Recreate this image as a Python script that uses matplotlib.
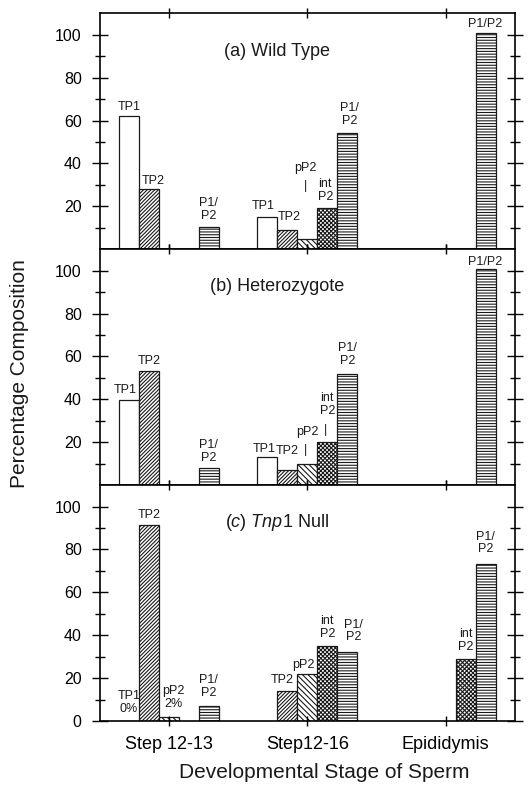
import numpy as np
import matplotlib
matplotlib.use("agg")
import matplotlib.pyplot as plt

plt.rcParams['font.family'] = ['Liberation Sans', 'DejaVu Sans']
plt.rcParams['mathtext.fontset'] = 'custom'
plt.rcParams['mathtext.it'] = 'Liberation Sans:italic'
plt.rcParams['mathtext.rm'] = 'Liberation Sans'
plt.rcParams['hatch.linewidth'] = 0.8
plt.rcParams['text.color'] = '#1a1a1a'

nan = np.nan
categories = ["Step 12-13", "Step12-16", "Epididymis"]
proteins = ["TP1", "TP2", "pP2", "intP2", "P1/P2"]

# (a) wild type
wt_tp1 = [62, 15, nan]
wt_tp2 = [28, 9, nan]
wt_pp2 = [nan, 5, nan]
wt_int = [nan, 19, nan]
wt_p1p2 = [10.5, 54, 101]

# (b) heterozygote
het_tp1 = [39.5, 13, nan]
het_tp2 = [53, 7, nan]
het_pp2 = [nan, 10, nan]
het_int = [nan, 20, nan]
het_p1p2 = [8, 52, 101]

# (c) Tnp1 null
null_tp1 = [0, nan, nan]
null_tp2 = [91.5, 14, nan]
null_pp2 = [2, 22, nan]
null_int = [nan, 35, 29]
null_p1p2 = [7, 32, 73]

titles = ["(a) Wild Type", "(b) Heterozygote", r"$\mathit{(c)\ Tnp1}$ Null"]
panels = [
    [wt_tp1, wt_tp2, wt_pp2, wt_int, wt_p1p2],
    [het_tp1, het_tp2, het_pp2, het_int, het_p1p2],
    [null_tp1, null_tp2, null_pp2, null_int, null_p1p2],
]
hatches = ["", "/" * 9, "\\" * 6, "x" * 8, "-" * 6]

# bar labels: (series, category, text, dx in bar widths, dy above bar top)
labels = [
    [(0, 0, "TP1", 0, 4.3), (1, 0, "TP2", 0.2, 3.7), (4, 0, "P1/\nP2", 0, 8.2),
     (0, 1, "TP1", -0.2, 5), (1, 1, "TP2", 0.1, 6), (2, 1, "pP2", -0.1, 33),
     (3, 1, "int\nP2", -0.1, 8.3), (4, 1, "P1/\nP2", 0.1, 8.8),
     (4, 2, "P1/P2", 0, 4)],
    [(0, 0, "TP1", -0.2, 5), (1, 0, "TP2", 0, 5), (4, 0, "P1/\nP2", 0, 7.8),
     (0, 1, "TP1", -0.15, 4), (1, 1, "TP2", 0, 9), (2, 1, "pP2", 0, 15),
     (3, 1, "int\nP2", 0, 17.6), (4, 1, "P1/\nP2", 0, 9),
     (4, 2, "P1/P2", 0, 3)],
    [(0, 0, "TP1\n0%", 0, 8.6), (1, 0, "TP2", 0, 4.8), (2, 0, "pP2\n2%", 0.2, 9),
     (4, 0, "P1/\nP2", 0, 9),
     (1, 1, "TP2", -0.25, 5), (2, 1, "pP2", -0.2, 4), (3, 1, "int\nP2", 0, 8.7),
     (4, 1, "P1/\nP2", 0.3, 10),
     (3, 2, "int\nP2", 0, 8.6), (4, 2, "P1/\nP2", 0, 10)],
]
# leader ticks: (series, category, dx, dy)
leaders = [
    [(2, 1, -0.1, 24.4)],
    [(2, 1, -0.1, 6.6), (3, 1, -0.1, 5.9)],
    [],
]

w = 0.1444
x = np.arange(len(categories))

fig, axes = plt.subplots(3, 1, sharex=True, figsize=(5.28, 7.85), dpi=100)
fig.subplots_adjust(left=0.189, right=0.975, top=0.983, bottom=0.0815, hspace=0)

for k, ax in enumerate(axes):
    series = panels[k]
    for i, vals in enumerate(series):
        vals = np.array(vals, dtype=float)
        keep = ~np.isnan(vals)
        ax.bar(x[keep] + (i - 2) * w, vals[keep], w, facecolor="white",
               edgecolor="#1a1a1a", hatch=hatches[i], linewidth=0.9)
    for s, c, txt, dx, dy in labels[k]:
        xpos = x[c] + (s - 2 + dx) * w
        ax.text(xpos, series[s][c] + dy, txt, ha="center", va="center",
                fontsize=9, linespacing=1.1)
    for s, c, dx, dy in leaders[k]:
        xpos = x[c] + (s - 2 + dx) * w
        ax.text(xpos, series[s][c] + dy, "|", ha="center", va="center", fontsize=9)

    ax.text(0.427, 0.84, titles[k], transform=ax.transAxes, ha="center",
            va="center", fontsize=13)

    ax.set_xlim(-0.5, 2.5)
    ax.set_ylim(0, 110)
    if k < 2:
        ax.set_yticks([20, 40, 60, 80, 100])
    else:
        ax.set_yticks([0, 20, 40, 60, 80, 100])
    ax.set_yticks([10, 30, 50, 70, 90], minor=True)
    ax.tick_params(axis="y", which="major", direction="inout", length=12,
                   width=1, right=True, labelsize=11.5, pad=7)
    ax.tick_params(axis="y", which="minor", direction="inout", length=7,
                   width=1, right=True)
    ax.tick_params(axis="x", direction="inout", length=7, width=1, top=True,
                   labelsize=13, pad=7)
    for sp in ax.spines.values():
        sp.set_linewidth(1.2)

axes[-1].set_xticks(x)
axes[-1].set_xticklabels(categories)

fig.text(0.036, 0.524, "Percentage Composition", rotation=90, ha="center",
         va="center", fontsize=15)
fig.text(0.614, 0.0155, "Developmental Stage of Sperm", ha="center",
         va="center", fontsize=15)

plt.savefig("out.png", dpi=100)
